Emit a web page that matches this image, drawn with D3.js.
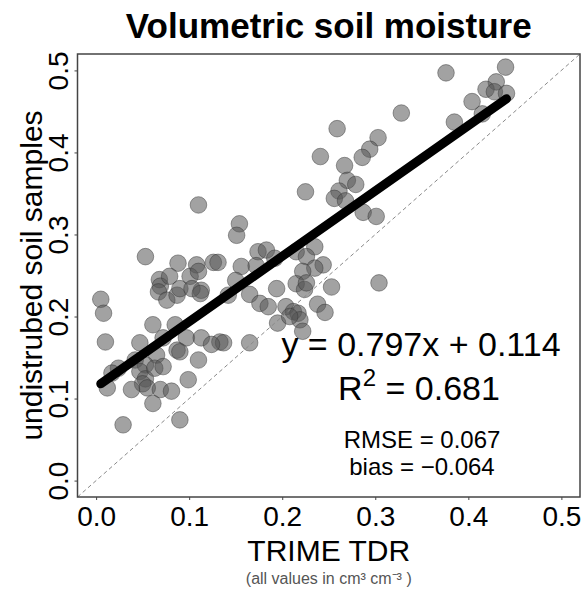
<!DOCTYPE html>
<html>
<head>
<meta charset="utf-8">
<script src="https://cdn.jsdelivr.net/npm/d3@7"></script>
<style>
  body { margin: 0; background: #fff; }
  svg { display: block; font-family: "Liberation Sans", Arial, Helvetica, sans-serif; }
</style>
</head>
<body>
<div id="chart"></div>
<script>
// TRIME TDR readings (x) and soil sample values (y)
const tdr = [
  0.440, 0.376, 0.430, 0.419, 0.428, 0.441, 0.404, 0.415, 0.385, 0.328,
  0.259, 0.303, 0.294, 0.286, 0.241, 0.267, 0.270, 0.279, 0.261, 0.256,
  0.268, 0.225, 0.287, 0.301, 0.304,
  0.110, 0.154, 0.151, 0.053, 0.005, 0.008, 0.010, 0.088, 0.108, 0.126,
  0.131, 0.156, 0.174, 0.183, 0.192, 0.172, 0.215, 0.235, 0.226, 0.244,
  0.235, 0.222, 0.150, 0.142, 0.165, 0.194, 0.215, 0.224, 0.253, 0.113,
  0.068, 0.069, 0.079, 0.067, 0.076, 0.087, 0.090, 0.101, 0.103, 0.112,
  0.110,
  0.176, 0.185, 0.204, 0.212, 0.217, 0.219, 0.195, 0.208, 0.222, 0.226,
  0.238, 0.246,
  0.061, 0.085, 0.097, 0.113, 0.133, 0.137, 0.124, 0.072, 0.087, 0.090,
  0.047, 0.065, 0.110, 0.165, 0.042, 0.024, 0.017, 0.053, 0.047, 0.053,
  0.050, 0.055, 0.063, 0.072, 0.012, 0.038, 0.069, 0.081, 0.099, 0.061,
  0.029, 0.090
];
const soil = [
  0.504, 0.497, 0.486, 0.477, 0.474, 0.472, 0.462, 0.447, 0.437, 0.448,
  0.429, 0.418, 0.404, 0.394, 0.395, 0.384, 0.366, 0.361, 0.353, 0.344,
  0.341, 0.352, 0.327, 0.322, 0.241,
  0.336, 0.313, 0.299, 0.273, 0.221, 0.204, 0.169, 0.265, 0.263, 0.266,
  0.266, 0.261, 0.279, 0.281, 0.271, 0.262, 0.279, 0.285, 0.273, 0.263,
  0.259, 0.255, 0.244, 0.226, 0.227, 0.234, 0.240, 0.233, 0.236, 0.232,
  0.245, 0.237, 0.249, 0.230, 0.220, 0.226, 0.234, 0.249, 0.234, 0.228,
  0.255,
  0.216, 0.212, 0.212, 0.206, 0.204, 0.196, 0.192, 0.200, 0.182, 0.241,
  0.215, 0.205,
  0.190, 0.190, 0.174, 0.174, 0.169, 0.168, 0.166, 0.174, 0.159, 0.157,
  0.168, 0.153, 0.147, 0.168, 0.147, 0.137, 0.131, 0.141, 0.133, 0.124,
  0.118, 0.113, 0.137, 0.139, 0.113, 0.111, 0.111, 0.109, 0.123, 0.094,
  0.068, 0.074
];

const axisTicks = [0, 0.1, 0.2, 0.3, 0.4, 0.5];
const fitSlope = 0.797, fitIntercept = 0.114;
const statLines = ["RMSE = 0.067", "bias = \u22120.064"];

const W = 584, H = 590;
const margin = {top: 54, right: 4, bottom: 93, left: 77.5};

const svg = d3.select("#chart").append("svg")
    .attr("width", W).attr("height", H)
    .style("background-color", "white");

const x = d3.scaleLinear().domain([-0.02, 0.52]).range([margin.left, W - margin.right]);
const y = d3.scaleLinear().domain([-0.02, 0.52]).range([H - margin.bottom, margin.top]);

// title
svg.append("text")
    .attr("x", (x.range()[0] + x.range()[1]) / 2).attr("y", 38)
    .attr("text-anchor", "middle")
    .style("font-size", "35px").style("font-weight", "bold")
    .text("Volumetric soil moisture");

// points
const pts = tdr.map((d, i) => ({x: d, y: soil[i]}));
svg.append("g").selectAll("circle")
    .data(pts).enter().append("circle")
    .attr("cx", d => x(d.x))
    .attr("cy", d => y(d.y))
    .attr("r", 8.3)
    .style("fill", "rgba(85,85,85,0.55)")
    .style("stroke", "rgba(50,50,50,0.45)")
    .style("stroke-width", 1);

// 1:1 line
svg.append("line")
    .attr("x1", x(-0.02)).attr("y1", y(-0.02))
    .attr("x2", x(0.52)).attr("y2", y(0.52))
    .attr("stroke", "#8a8a8a").attr("stroke-width", 1)
    .attr("stroke-dasharray", "4,3");

// regression line over the data range
const xr = d3.extent(tdr);
svg.append("line")
    .attr("x1", x(xr[0])).attr("y1", y(fitSlope * xr[0] + fitIntercept))
    .attr("x2", x(xr[1])).attr("y2", y(fitSlope * xr[1] + fitIntercept))
    .attr("stroke", "#000").attr("stroke-width", 9)
    .attr("stroke-linecap", "round");

// axes
const gx = svg.append("g")
    .attr("transform", "translate(0," + y.range()[0] + ")")
    .call(d3.axisBottom(x).tickValues(axisTicks).tickFormat(d3.format(".1f"))
        .tickSize(3).tickPadding(6));
const gy = svg.append("g")
    .attr("transform", "translate(" + x.range()[0] + ",0)")
    .call(d3.axisLeft(y).tickValues(axisTicks).tickFormat(d3.format(".1f")).tickSize(3));
[gx, gy].forEach(g => {
    g.select(".domain").remove();
    g.selectAll("line").attr("stroke", "#444");
    g.selectAll("text").attr("fill", "#000")
        .style("font-size", "28px")
        .style("font-family", "'Liberation Sans', Arial, sans-serif");
});
gy.selectAll("text")
    .attr("transform", "rotate(-90)")
    .attr("x", 0).attr("y", -10).attr("dy", 0)
    .attr("text-anchor", "middle");

// box
svg.append("rect")
    .attr("x", x.range()[0]).attr("y", y.range()[1])
    .attr("width", x.range()[1] - x.range()[0])
    .attr("height", y.range()[0] - y.range()[1])
    .attr("fill", "none").attr("stroke", "#444").attr("stroke-width", 1.5);

// axis labels
const cx = (x.range()[0] + x.range()[1]) / 2;
svg.append("text")
    .attr("x", cx).attr("y", 561)
    .attr("text-anchor", "middle").style("font-size", "30px")
    .text("TRIME TDR");
svg.append("text")
    .attr("transform", "translate(42," + (y.range()[0] + y.range()[1]) / 2 + ") rotate(-90)")
    .attr("text-anchor", "middle").style("font-size", "30px")
    .text("undistrubed soil samples");

svg.append("text")
    .attr("x", cx).attr("y", 584)
    .attr("text-anchor", "middle").style("font-size", "16px")
    .attr("fill", "#555")
    .text("(all values in cm\u00b3 cm\u207b\u00b3 )");

// fit annotations
svg.append("text")
    .attr("x", 421).attr("y", 356)
    .attr("text-anchor", "middle").style("font-size", "34px")
    .text("y = " + fitSlope + "x + " + fitIntercept);
const r2 = svg.append("text")
    .attr("x", 419).attr("y", 400)
    .attr("text-anchor", "middle").style("font-size", "34px");
r2.append("tspan").text("R");
r2.append("tspan").attr("dy", -14).style("font-size", "24px").text("2");
r2.append("tspan").attr("dy", 14).text(" = 0.681");

svg.selectAll(".stat")
    .data(statLines).enter().append("text")
    .attr("class", "stat")
    .attr("x", 422).attr("y", (d, i) => 448 + i * 27)
    .attr("text-anchor", "middle").style("font-size", "24px")
    .text(d => d);
</script>
</body>
</html>
